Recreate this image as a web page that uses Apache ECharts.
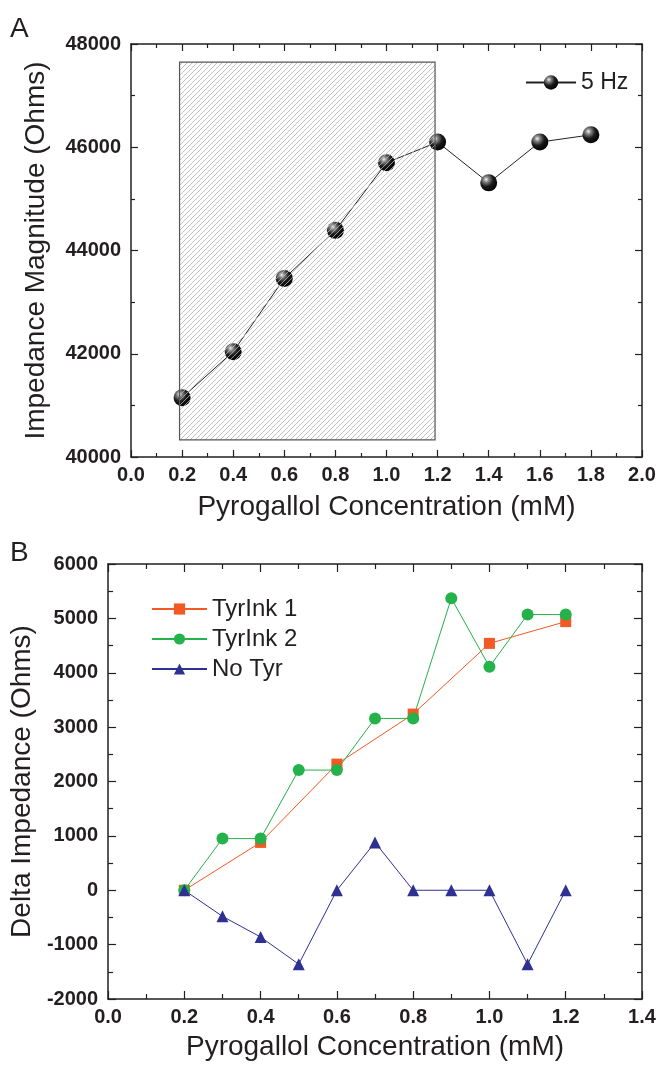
<!DOCTYPE html>
<html>
<head>
<meta charset="utf-8">
<script src="https://cdn.jsdelivr.net/npm/echarts@6/dist/echarts.min.js"></script>
<style>
  html, body { margin: 0; padding: 0; background: #fff; }
  #chart { width: 661px; height: 1066px; }
</style>
</head>
<body>
<div id="chart"></div>
<script>
// Panel A: impedance magnitude at 5 Hz
const concA = [0.2, 0.4, 0.6, 0.8, 1.0, 1.2, 1.4, 1.6, 1.8];
const impedance5Hz = [41150, 42040, 43460, 44390, 45700, 46100, 45310, 46100, 46240];
// hatched linear region (x range, y range)
const hatchX = [0.19, 1.19];
const hatchY = [40330, 47650];

// Panel B: delta impedance
const concTyr1 = [0.2, 0.4, 0.6, 0.8, 1.0, 1.2];
const tyrInk1 = [0, 880, 2320, 3240, 4540, 4940];
const concB = [0.2, 0.3, 0.4, 0.5, 0.6, 0.7, 0.8, 0.9, 1.0, 1.1, 1.2];
const tyrInk2 = [0, 950, 950, 2210, 2210, 3160, 3160, 5370, 4110, 5070, 5070];
const noTyr = [0, -480, -860, -1360, 0, 880, 0, 0, 0, -1360, 0];

const pairs = (xs, ys) => xs.map((x, i) => [x, ys[i]]);

// diagonal hatch pattern
const hatch = document.createElement('canvas');
hatch.width = 5; hatch.height = 5;
const hc = hatch.getContext('2d');
hc.strokeStyle = '#b4b4b4';
hc.lineWidth = 0.8;
hc.beginPath();
hc.moveTo(-1, 6); hc.lineTo(6, -1);
hc.moveTo(-1, 1); hc.lineTo(1, -1);
hc.moveTo(4, 6); hc.lineTo(6, 4);
hc.stroke();

const axisColor = '#231f20';
const tickFont = { color: '#231f20', fontSize: 20, fontWeight: 'bold', fontFamily: 'Liberation Sans, Arial, sans-serif' };
const nameFont = { color: '#231f20', fontSize: 28, fontFamily: 'Liberation Sans, Arial, sans-serif' };

function xAx(grid, max, pos, showLabel, name, gap, majLen, minLen) {
  return {
    type: 'value', gridIndex: grid, position: pos, min: 0, max: max, interval: 0.2,
    axisLine: { show: true, onZero: false, lineStyle: { color: axisColor, width: 1.5 } },
    axisTick: { show: true, inside: true, length: majLen, lineStyle: { color: axisColor, width: 1.2 } },
    minorTick: { show: true, splitNumber: 2, length: minLen, lineStyle: { color: axisColor, width: 1.2 } },
    splitLine: { show: false },
    axisLabel: { show: showLabel, margin: 8, formatter: v => v.toFixed(1), ...tickFont },
    name: showLabel ? name : '', nameLocation: 'middle', nameGap: gap, nameTextStyle: nameFont
  };
}
function yAx(grid, min, max, interval, pos, showLabel, name, gap, majLen, minLen) {
  return {
    type: 'value', gridIndex: grid, position: pos, min: min, max: max, interval: interval,
    axisLine: { show: true, onZero: false, lineStyle: { color: axisColor, width: 1.5 } },
    axisTick: { show: true, inside: true, length: majLen, lineStyle: { color: axisColor, width: 1.2 } },
    minorTick: { show: true, splitNumber: 2, length: minLen, lineStyle: { color: axisColor, width: 1.2 } },
    splitLine: { show: false },
    axisLabel: { show: showLabel, margin: 10, formatter: v => String(v), ...tickFont },
    name: showLabel ? name : '', nameLocation: 'middle', nameGap: gap, nameRotate: 90, nameTextStyle: nameFont
  };
}

const sphere = new echarts.graphic.RadialGradient(0.35, 0.3, 0.75, [
  { offset: 0, color: '#f4f4f4' },
  { offset: 0.2, color: '#8a8a8a' },
  { offset: 0.55, color: '#1a1a1a' },
  { offset: 1, color: '#000' }
]);

const chart = echarts.init(document.getElementById('chart'), null, { renderer: 'canvas' });
chart.setOption({
  animation: false,
  backgroundColor: '#fff',
  grid: [
    { left: 131, right: 19, top: 44, height: 413 },
    { left: 103, right: 19, top: 564, height: 435 }
  ],
  xAxis: [
    xAx(0, 2.0, 'bottom', true, 'Pyrogallol Concentration (mM)', 36, 7, 4),
    xAx(0, 2.0, 'top', false, '', 0, 7, 4),
    xAx(1, 1.4, 'bottom', true, 'Pyrogallol Concentration (mM)', 34, 8, 5),
    xAx(1, 1.4, 'top', false, '', 0, 8, 5)
  ],
  yAxis: [
    yAx(0, 40000, 48000, 2000, 'left', true, 'Impedance Magnitude (Ohms)', 81, 7, 4),
    yAx(0, 40000, 48000, 2000, 'right', false, '', 0, 7, 4),
    yAx(1, -2000, 6000, 1000, 'left', true, 'Delta Impedance (Ohms)', 63, 8, 5),
    yAx(1, -2000, 6000, 1000, 'right', false, '', 0, 8, 5)
  ],
  legend: [
    {
      data: ['5 Hz'], left: 520, top: 66, itemWidth: 50, itemHeight: 18,
      textStyle: { color: '#231f20', fontSize: 23, fontFamily: 'Liberation Sans, Arial, sans-serif' }
    },
    {
      data: ['TyrInk 1', 'TyrInk 2', 'No Tyr'], orient: 'vertical', left: 146, top: 592,
      itemWidth: 55, itemHeight: 14, itemGap: 6,
      textStyle: { color: '#231f20', fontSize: 24, lineHeight: 24, fontFamily: 'Liberation Sans, Arial, sans-serif' }
    }
  ],
  graphic: [
    { type: 'text', left: 10, top: 15, style: { text: 'A', fontSize: 28, fill: '#231f20', fontFamily: 'Liberation Sans, Arial, sans-serif' } },
    { type: 'text', left: 10, top: 539, style: { text: 'B', fontSize: 28, fill: '#231f20', fontFamily: 'Liberation Sans, Arial, sans-serif' } }
  ],
  series: [
    {
      name: '5 Hz', type: 'line', xAxisIndex: 0, yAxisIndex: 0,
      data: pairs(concA, impedance5Hz),
      symbol: 'circle', symbolSize: 17,
      lineStyle: { color: '#222', width: 1 },
      itemStyle: { color: sphere, borderWidth: 0 },
      markArea: {
        silent: true, z: 5,
        itemStyle: { color: { image: hatch, repeat: 'repeat' }, borderColor: '#555', borderWidth: 1.2 },
        data: [[{ coord: [hatchX[0], hatchY[1]] }, { coord: [hatchX[1], hatchY[0]] }]]
      }
    },
    {
      name: 'TyrInk 1', type: 'line', xAxisIndex: 2, yAxisIndex: 2,
      data: pairs(concTyr1, tyrInk1),
      symbol: 'rect', symbolSize: 11,
      lineStyle: { color: '#f15a24', width: 1 },
      itemStyle: { color: '#f15a24' }
    },
    {
      name: 'TyrInk 2', type: 'line', xAxisIndex: 2, yAxisIndex: 2,
      data: pairs(concB, tyrInk2),
      symbol: 'circle', symbolSize: 12,
      lineStyle: { color: '#25b24a', width: 1 },
      itemStyle: { color: '#25b24a' }
    },
    {
      name: 'No Tyr', type: 'line', xAxisIndex: 2, yAxisIndex: 2,
      data: pairs(concB, noTyr),
      symbol: 'triangle', symbolSize: 12,
      lineStyle: { color: '#2e3192', width: 1 },
      itemStyle: { color: '#2e3192' }
    }
  ]
});
</script>
</body>
</html>
